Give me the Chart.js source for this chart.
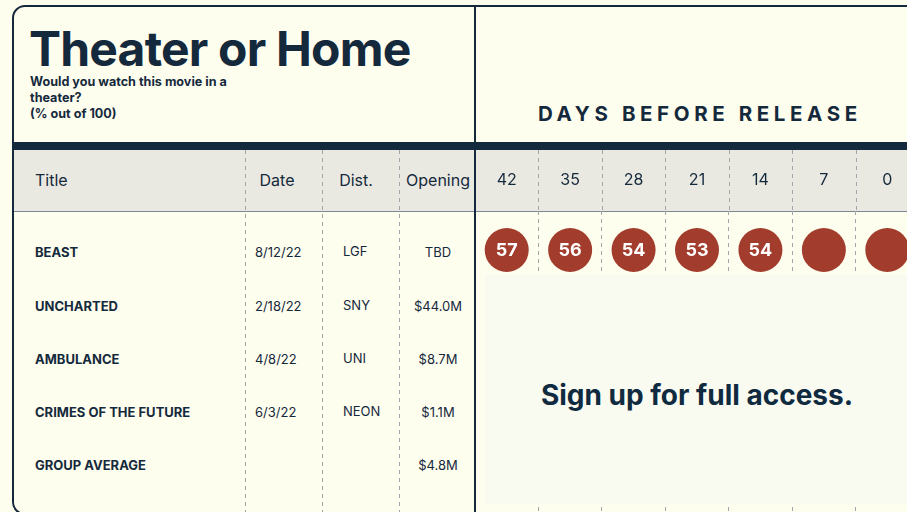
<!DOCTYPE html>
<html>
<head>
<meta charset="utf-8">
<script src="https://cdn.jsdelivr.net/npm/chart.js@4.4.1/dist/chart.umd.min.js"></script>
<style>
  html, body { margin: 0; padding: 0; }
  body {
    width: 907px; height: 512px; overflow: hidden; position: relative;
    background: #fefeee; font-family: Inter, "Noto Sans", sans-serif; color: #15293d;
  }
  .abs { position: absolute; white-space: nowrap; }
  #card {
    position: absolute; left: 12px; top: 5px; width: 1000px; height: 510px;
    border: 2px solid #15293d; border-radius: 13px; box-sizing: border-box;
  }
  #bar { position: absolute; left: 12px; top: 142px; width: 900px; height: 8px; background: #15293d; }
  #head {
    position: absolute; left: 14px; top: 150px; width: 900px; height: 61px;
    background: #eae9e1; border-bottom: 1px solid #7b8794;
  }
  #divider { position: absolute; left: 474px; top: 6px; width: 2px; height: 510px; background: #15293d; z-index: 3; }
  .vdash {
    position: absolute; top: 150px; height: 362px; width: 1px;
    background: repeating-linear-gradient(to bottom, #a2a6aa 0 4px, transparent 4px 8px);
  }
  #wrap { position: absolute; left: 475px; top: 150px; width: 444px; height: 362px; }
  #title { left: 29px; top: 19px; font-size: 48px; font-weight: 700; letter-spacing: -0.8px; line-height: 60px; }
  #sub { left: 30px; top: 74px; font-size: 12.6px; font-weight: 700; line-height: 16px; white-space: normal; width: 230px; }
  #days { left: 538px; top: 102px; font-size: 20.5px; font-weight: 700; letter-spacing: 4.6px; line-height: 24px; }
  .hd { font-size: 16px; line-height: 20px; top: 170px; }
  .rt { font-size: 13px; font-weight: 700; line-height: 16px; }
  .rv { font-size: 13px; line-height: 16px; }
  .c { transform: translateX(-50%); }
  #lock {
    position: absolute; left: 485px; top: 275px; width: 424px; height: 229px;
    background: #f9fbf1; z-index: 2; box-sizing: border-box; padding-top: 10px;
    display: flex; align-items: center; justify-content: center;
    font-size: 28px; font-weight: 700; color: #102a3f;
  }
</style>
</head>
<body>
<div id="card"></div>
<div id="bar"></div>
<div id="head"></div>
<div class="vdash" style="left:245px"></div>
<div class="vdash" style="left:322px"></div>
<div class="vdash" style="left:399px"></div>
<div id="wrap"><canvas id="chart"></canvas></div>
<div id="divider"></div>

<div id="title" class="abs">Theater or Home</div>
<div id="sub" class="abs">Would you watch this movie in a<br>theater?<br>(% out of 100)</div>
<div id="days" class="abs">DAYS BEFORE RELEASE</div>

<div class="abs hd" style="left:35px">Title</div>
<div class="abs hd c" style="left:277px">Date</div>
<div class="abs hd c" style="left:356px">Dist.</div>
<div class="abs hd c" style="left:438px">Opening</div>

<div id="rows"></div>
<div id="lock">Sign up for full access.</div>

<script>
// table data
var titles = ["BEAST", "UNCHARTED", "AMBULANCE", "CRIMES OF THE FUTURE", "GROUP AVERAGE"];
var dates = ["8/12/22", "2/18/22", "4/8/22", "6/3/22", ""];
var dists = ["LGF", "SNY", "UNI", "NEON", ""];
var openings = ["TBD", "$44.0M", "$8.7M", "$1.1M", "$4.8M"];

// days before release (column headers)
var days = ["42", "35", "28", "21", "14", "7", "0"];
// Beast scores, last two are locked (blank circles)
var beastScores = [57, 56, 54, 53, 54, null, null];

// left table text
var rowY = [244, 298, 351, 404, 457];
var rowsHtml = "";
titles.forEach(function (t, i) {
    rowsHtml += '<div class="abs rt" style="left:35px;top:' + rowY[i] + 'px">' + t + '</div>';
    rowsHtml += '<div class="abs rv" style="left:255px;top:' + rowY[i] + 'px">' + dates[i] + '</div>';
    rowsHtml += '<div class="abs rv" style="left:343px;top:' + (rowY[i] - 1) + 'px">' + dists[i] + '</div>';
    rowsHtml += '<div class="abs rv c" style="left:438px;top:' + rowY[i] + 'px">' + openings[i] + '</div>';
});
document.getElementById("rows").innerHTML = rowsHtml;

// dashed column separators inside the header row (axis box)
var headerLines = {
    id: 'headerLines',
    beforeDatasetsDraw: function (chart) {
        var x = chart.scales.x;
        var ctx = chart.ctx;
        ctx.save();
        ctx.strokeStyle = "#a2a6aa";
        ctx.lineWidth = 1;
        ctx.setLineDash([4, 4]);
        for (var i = 1; i < days.length; i++) {
            var px = Math.round((x.getPixelForTick(i - 1) + x.getPixelForTick(i)) / 2) + 0.5;
            ctx.beginPath();
            ctx.moveTo(px, x.top);
            ctx.lineTo(px, x.bottom);
            ctx.stroke();
        }
        ctx.restore();
    }
};

// write the score in each circle
var scoreLabels = {
    id: 'scoreLabels',
    afterDatasetsDraw: function (chart) {
        var ctx = chart.ctx;
        var meta = chart.getDatasetMeta(0);
        ctx.save();
        ctx.fillStyle = "#ffffff";
        ctx.font = "700 18px Inter";
        ctx.textAlign = "center";
        ctx.textBaseline = "middle";
        meta.data.forEach(function (pt, i) {
            if (beastScores[i] !== null) {
                ctx.fillText(beastScores[i], pt.x, pt.y + 1);
            }
        });
        ctx.restore();
    }
};

var options = {
    type: 'line',
    data: {
        labels: days,
        datasets: [{
            data: days.map(function (d) { return { x: d, y: titles.indexOf("BEAST") }; }),
            showLine: false,
            pointRadius: 22,
            pointHoverRadius: 22,
            pointBorderWidth: 0,
            pointBackgroundColor: "#a23c2d",
            pointBorderColor: "#a23c2d"
        }]
    },
    options: {
        responsive: true,
        maintainAspectRatio: false,
        animation: false,
        events: [],
        layout: { autoPadding: false, padding: 0 },
        plugins: {
            legend: { display: false },
            tooltip: { enabled: false }
        },
        scales: {
            x: {
                type: 'category',
                position: 'top',
                offset: true,
                grid: {
                    offset: true,
                    color: "#a2a6aa",
                    lineWidth: 1,
                    drawTicks: false
                },
                border: { display: false, dash: [4, 4] },
                ticks: {
                    color: "#15293d",
                    padding: 20.9,
                    maxRotation: 0,
                    minRotation: 0,
                    autoSkip: false,
                    font: { family: "Inter", size: 16, lineHeight: 1.2 }
                }
            },
            y: {
                type: 'linear',
                display: false,
                reverse: true,
                min: -0.73,
                max: 4.9
            }
        }
    },
    plugins: [headerLines, scoreLabels]
};

var chart = new Chart(document.getElementById("chart"), options);
</script>
</body>
</html>
